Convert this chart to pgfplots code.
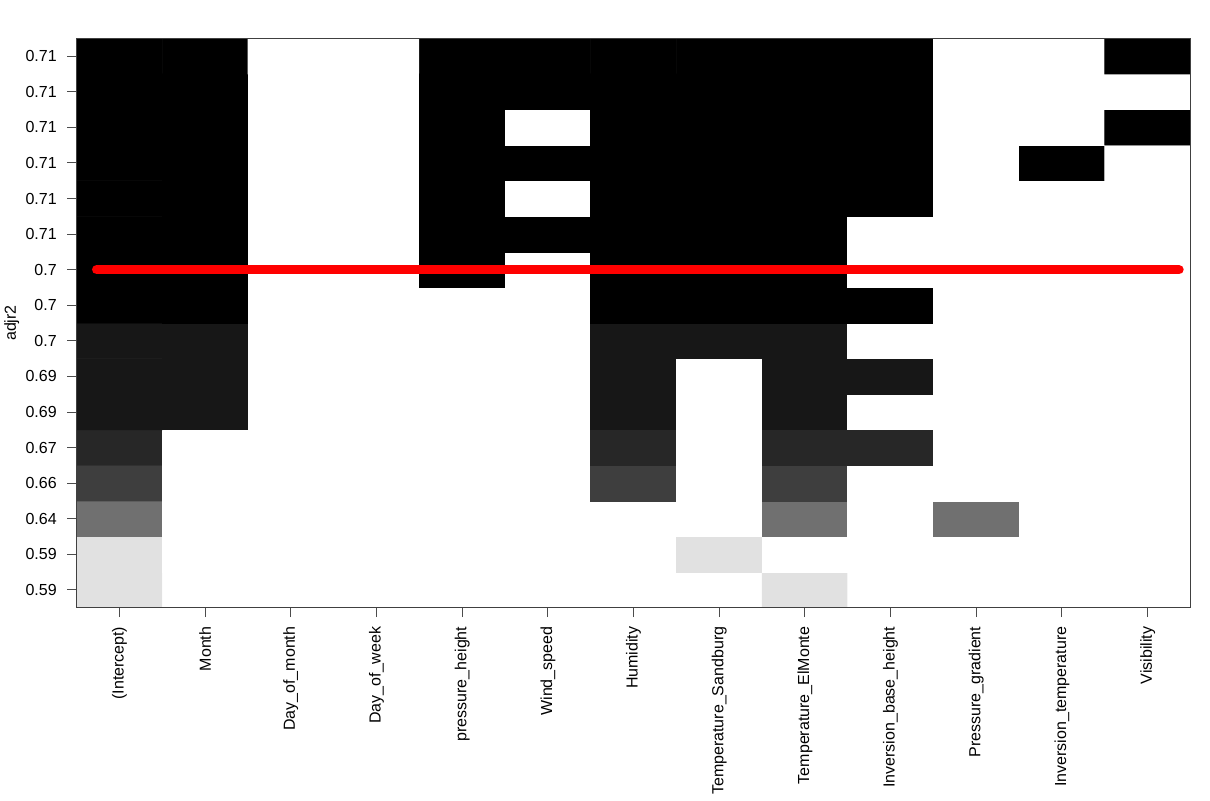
\documentclass[border=0pt]{standalone}
\usepackage{fontspec}
\setmainfont{Liberation Sans}
\usepackage{pgfplots}
\pgfplotsset{compat=1.18}
\begin{document}
\begin{tikzpicture}
\begin{axis}[
  at={(0,0)}, anchor=south west,
  width=835.35pt, height=427pt, scale only axis,
  xmin=-0.5, xmax=12.5, ymin=-0.5, ymax=15.5,
  axis on top,
  axis line style={draw=black!75, line width=0.75pt},
  tick align=outside, major tick length=7pt,
  tick style={draw=black!70, line width=0.75pt},
  xtick pos=left, ytick pos=left,
  xtick={0,...,12}, ytick={0,...,15},
  xticklabels={(Intercept),Month,Day\_of\_month,Day\_of\_week,pressure\_height,Wind\_speed,Humidity,Temperature\_Sandburg,Temperature\_ElMonte,Inversion\_base\_height,Pressure\_gradient,Inversion\_temperature,Visibility},
  yticklabels={0.59,0.59,0.64,0.66,0.67,0.69,0.69,0.7,0.7,0.7,0.71,0.71,0.71,0.71,0.71,0.71},
  x tick label style={rotate=90, anchor=east, inner ysep=0pt, inner xsep=7pt, font=\fontsize{12}{14}\selectfont},
  y tick label style={anchor=east, inner ysep=0pt, inner xsep=7.8pt, font=\fontsize{12}{14}\selectfont},
  ylabel={adjr2},
  ylabel style={at={(axis description cs:-0.0582,0.5)}, anchor=center, font=\fontsize{12}{14}\selectfont},
  colormap={bw}{gray(0cm)=(0); gray(1cm)=(1)},
  point meta min=0, point meta max=1,
]
% one cell per model (row) and variable (column); meta = grey level, 1 = not in model
\addplot[matrix plot*, shader=faceted, faceted color=mapped color, line width=0.5pt,
  mesh/cols=13, point meta=explicit]
  table[meta=c, row sep=\\] {
x y c\\
0 0 .878\\ 1 0 1\\ 2 0 1\\ 3 0 1\\ 4 0 1\\ 5 0 1\\ 6 0 1\\ 7 0 1\\ 8 0 .878\\ 9 0 1\\ 10 0 1\\ 11 0 1\\ 12 0 1\\
0 1 .878\\ 1 1 1\\ 2 1 1\\ 3 1 1\\ 4 1 1\\ 5 1 1\\ 6 1 1\\ 7 1 .878\\ 8 1 1\\ 9 1 1\\ 10 1 1\\ 11 1 1\\ 12 1 1\\
0 2 .435\\ 1 2 1\\ 2 2 1\\ 3 2 1\\ 4 2 1\\ 5 2 1\\ 6 2 1\\ 7 2 1\\ 8 2 .435\\ 9 2 1\\ 10 2 .435\\ 11 2 1\\ 12 2 1\\
0 3 .243\\ 1 3 1\\ 2 3 1\\ 3 3 1\\ 4 3 1\\ 5 3 1\\ 6 3 .243\\ 7 3 1\\ 8 3 .243\\ 9 3 1\\ 10 3 1\\ 11 3 1\\ 12 3 1\\
0 4 .153\\ 1 4 1\\ 2 4 1\\ 3 4 1\\ 4 4 1\\ 5 4 1\\ 6 4 .153\\ 7 4 1\\ 8 4 .153\\ 9 4 .153\\ 10 4 1\\ 11 4 1\\ 12 4 1\\
0 5 .09\\ 1 5 .09\\ 2 5 1\\ 3 5 1\\ 4 5 1\\ 5 5 1\\ 6 5 .09\\ 7 5 1\\ 8 5 .09\\ 9 5 1\\ 10 5 1\\ 11 5 1\\ 12 5 1\\
0 6 .09\\ 1 6 .09\\ 2 6 1\\ 3 6 1\\ 4 6 1\\ 5 6 1\\ 6 6 .09\\ 7 6 1\\ 8 6 .09\\ 9 6 .09\\ 10 6 1\\ 11 6 1\\ 12 6 1\\
0 7 .09\\ 1 7 .09\\ 2 7 1\\ 3 7 1\\ 4 7 1\\ 5 7 1\\ 6 7 .09\\ 7 7 .09\\ 8 7 .09\\ 9 7 1\\ 10 7 1\\ 11 7 1\\ 12 7 1\\
0 8 0\\ 1 8 0\\ 2 8 1\\ 3 8 1\\ 4 8 1\\ 5 8 1\\ 6 8 0\\ 7 8 0\\ 8 8 0\\ 9 8 0\\ 10 8 1\\ 11 8 1\\ 12 8 1\\
0 9 0\\ 1 9 0\\ 2 9 1\\ 3 9 1\\ 4 9 0\\ 5 9 1\\ 6 9 0\\ 7 9 0\\ 8 9 0\\ 9 9 1\\ 10 9 1\\ 11 9 1\\ 12 9 1\\
0 10 0\\ 1 10 0\\ 2 10 1\\ 3 10 1\\ 4 10 0\\ 5 10 0\\ 6 10 0\\ 7 10 0\\ 8 10 0\\ 9 10 1\\ 10 10 1\\ 11 10 1\\ 12 10 1\\
0 11 0\\ 1 11 0\\ 2 11 1\\ 3 11 1\\ 4 11 0\\ 5 11 1\\ 6 11 0\\ 7 11 0\\ 8 11 0\\ 9 11 0\\ 10 11 1\\ 11 11 1\\ 12 11 1\\
0 12 0\\ 1 12 0\\ 2 12 1\\ 3 12 1\\ 4 12 0\\ 5 12 0\\ 6 12 0\\ 7 12 0\\ 8 12 0\\ 9 12 0\\ 10 12 1\\ 11 12 0\\ 12 12 1\\
0 13 0\\ 1 13 0\\ 2 13 1\\ 3 13 1\\ 4 13 0\\ 5 13 1\\ 6 13 0\\ 7 13 0\\ 8 13 0\\ 9 13 0\\ 10 13 1\\ 11 13 1\\ 12 13 0\\
0 14 0\\ 1 14 0\\ 2 14 1\\ 3 14 1\\ 4 14 0\\ 5 14 0\\ 6 14 0\\ 7 14 0\\ 8 14 0\\ 9 14 0\\ 10 14 1\\ 11 14 1\\ 12 14 1\\
0 15 0\\ 1 15 0\\ 2 15 1\\ 3 15 1\\ 4 15 0\\ 5 15 0\\ 6 15 0\\ 7 15 0\\ 8 15 0\\ 9 15 0\\ 10 15 1\\ 11 15 1\\ 12 15 0\\
};
% red reference line
\addplot[red, line width=7.1pt, line cap=round] coordinates {(-0.266,9) (12.366,9)};
\end{axis}
\pgfresetboundingbox
\path (-57.5pt,-144.2pt) rectangle (850pt,455.8pt);
\end{tikzpicture}
\end{document}
